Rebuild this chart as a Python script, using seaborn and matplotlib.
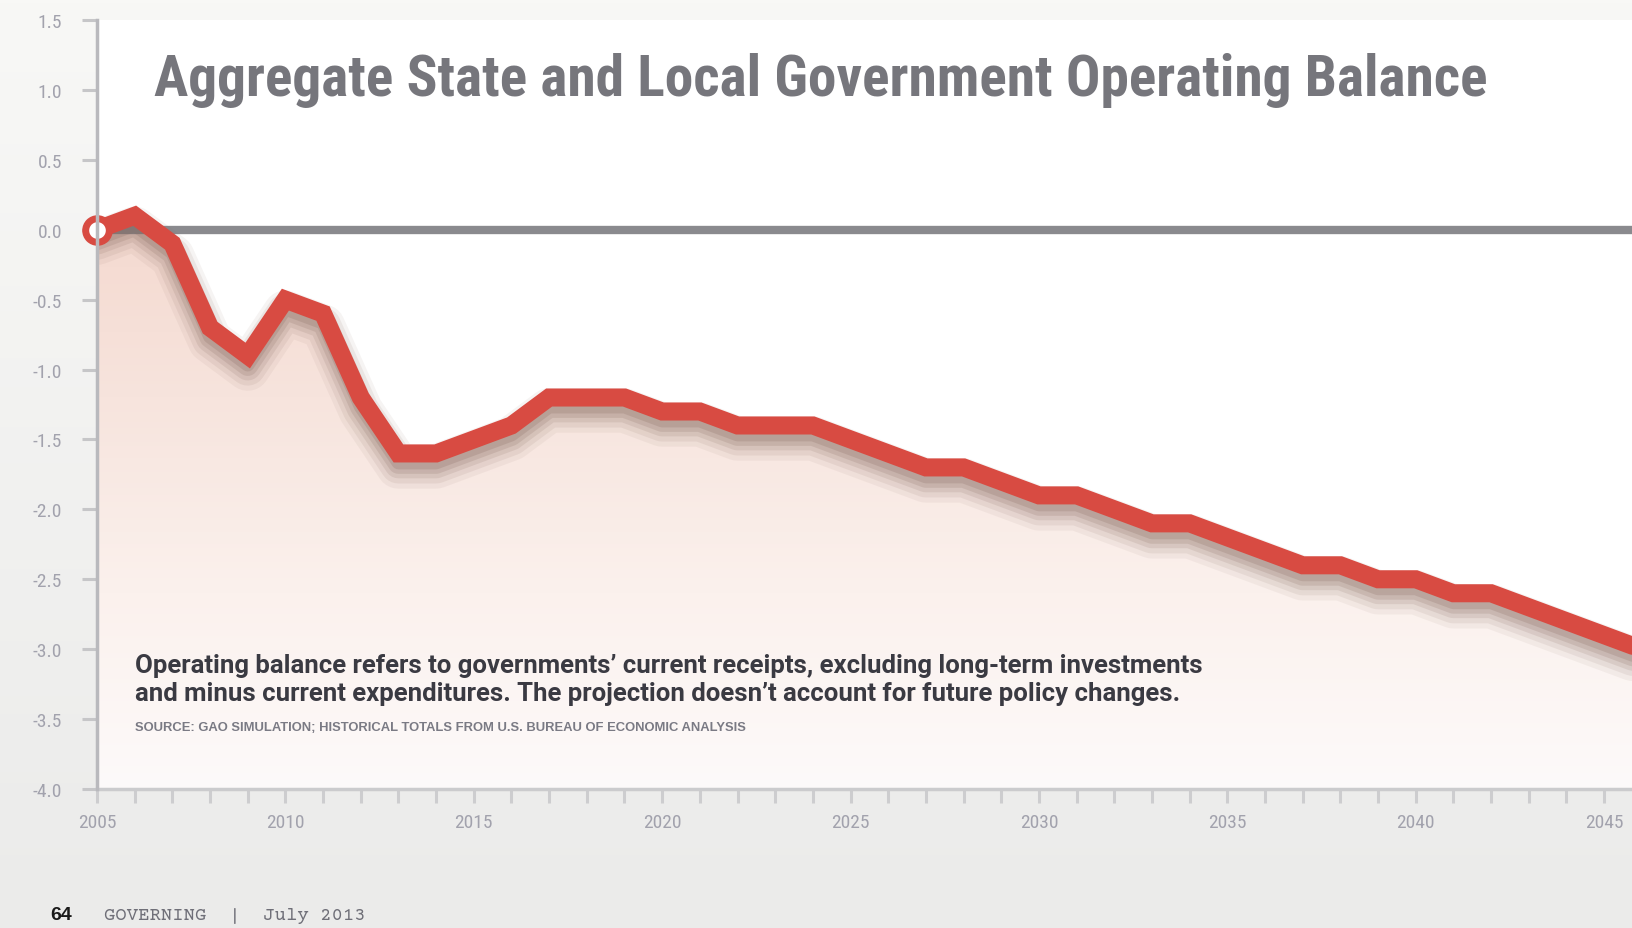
import numpy as np
import pandas as pd
import matplotlib
matplotlib.use("Agg")
import matplotlib.pyplot as plt
import matplotlib.transforms as mtransforms
from matplotlib import font_manager
import seaborn as sns

# ---------------- data ----------------
years = list(range(2005, 2047))
balance = [0.0, 0.1, -0.1, -0.7, -0.9, -0.5, -0.6, -1.2, -1.6, -1.6,
           -1.5, -1.4, -1.2, -1.2, -1.2, -1.3, -1.3, -1.4, -1.4, -1.4,
           -1.5, -1.6, -1.7, -1.7, -1.8, -1.9, -1.9, -2.0, -2.1, -2.1,
           -2.2, -2.3, -2.4, -2.4, -2.5, -2.5, -2.6, -2.6, -2.7, -2.8,
           -2.9, -3.0]
y_ticks = [1.5, 1.0, 0.5, 0.0, -0.5, -1.0, -1.5, -2.0, -2.5, -3.0, -3.5, -4.0]
x_label_years = [2005, 2010, 2015, 2020, 2025, 2030, 2035, 2040, 2045]

title = "Aggregate State and Local Government Operating Balance"
note = ("Operating balance refers to governments\u2019 current receipts, excluding long-term investments\n"
        "and minus current expenditures. The projection doesn\u2019t account for future policy changes.")
source = "SOURCE: GAO SIMULATION; HISTORICAL TOTALS FROM U.S. BUREAU OF ECONOMIC ANALYSIS"
footer_num = "64"
footer_txt = "GOVERNING  |  July 2013"

df = pd.DataFrame({"year": years, "balance": balance})

# ---------------- style ----------------
sns.set_theme(style="white")
bold_names = {f.name for f in font_manager.fontManager.ttflist
              if f.style == "normal" and isinstance(f.weight, int) and f.weight >= 700}
names = {f.name for f in font_manager.fontManager.ttflist}


def pick(cands, need_bold=False):
    pool = bold_names if need_bold else names
    for c in cands:
        if c in pool:
            return c
    return "DejaVu Sans"


cond = pick(["Roboto Condensed", "Archivo Narrow", "PT Sans Narrow", "Fira Sans Condensed",
             "IBM Plex Sans Condensed", "Open Sans Condensed"], need_bold=True)
frank = pick(["Libre Franklin", "Franklin Gothic", "Archivo", "Roboto", "Liberation Sans"],
             need_bold=True)
serif = pick(["Courier Prime", "Old Standard TT", "Liberation Serif"])
plt.rcParams["font.family"] = ["Liberation Sans", "DejaVu Sans"]
plt.rcParams["axes.unicode_minus"] = False

W, H = 1632, 929
fig = plt.figure(figsize=(W / 100, H / 100), dpi=100)

# page background gradient
bg = fig.add_axes([0, 0, 1, 1], zorder=-10)
grad = np.linspace(0, 1, 256).reshape(-1, 1)
bg_cmap = matplotlib.colors.LinearSegmentedColormap.from_list("bg", ["#f8f8f6", "#ebebea"])
bg.imshow(grad, aspect="auto", cmap=bg_cmap, extent=[0, 1, 0, 1])
bg.set_axis_off()

left = 97 / W
bottom = 1 - 790 / H
top = 1 - 21 / H
ax = fig.add_axes([left, bottom, 1 - left, top - bottom])
ax.set_facecolor("white")

x0, x1 = 2005, 2045.74
y0, y1 = -4.0, 1.5
ax.set_xlim(x0, x1)
ax.set_ylim(y0, y1)

# gradient fill under the line
poly = ax.fill_between(df["year"], df["balance"], y0, color="none", lw=0)
fill_cmap = matplotlib.colors.LinearSegmentedColormap.from_list(
    "fill", ["#f4d8ce", "#f7e4dd", "#fbf1ed", "#fdfafa"])
gimg = ax.imshow(np.linspace(0, 1, 256).reshape(-1, 1), aspect="auto", cmap=fill_cmap,
                 extent=[x0, x1, y0, 0.2], origin="upper", zorder=1)
gimg.set_clip_path(poly.get_paths()[0], transform=ax.transData)

# zero line
ax.axhline(0, color="#8a8a8e", lw=6, zorder=2)

# soft shadow under the line
for dy, lw, a in [(13, 32, 0.07), (12, 26, 0.10), (11, 20, 0.14), (10, 15, 0.18),
                  (9, 10, 0.22)]:
    tr = ax.transData + mtransforms.ScaledTranslation(0, -dy / 100, fig.dpi_scale_trans)
    ax.plot(df["year"], df["balance"], color="#85685e", lw=lw, alpha=a,
            solid_joinstyle="round", solid_capstyle="round", transform=tr, zorder=3)

# main line via seaborn
sns.lineplot(data=df, x="year", y="balance", ax=ax, color="#d84b42", lw=13,
             zorder=4, legend=False)
ax.get_lines()[-1].set_solid_joinstyle("miter")

# open start marker
ax.plot(df["year"].iloc[:1], df["balance"].iloc[:1], marker="o", ms=17, mfc="white",
        mec="#d84b42", mew=5, ls="none", zorder=5, clip_on=False)

# axes styling
for s in ["top", "right"]:
    ax.spines[s].set_visible(False)
ax.spines["left"].set_color("#b9b9bd")
ax.spines["left"].set_linewidth(2.5)
ax.spines["bottom"].set_color("#cbcbcd")
ax.spines["bottom"].set_linewidth(2.5)
ax.spines["left"].set_zorder(6)

ax.set_yticks(y_ticks)
ax.set_yticklabels([f"{v:.1f}" for v in y_ticks])
ax.set_xticks(years[:-1])
ax.set_xticklabels([str(y) if y in x_label_years else "" for y in years[:-1]])
ax.tick_params(axis="y", length=11, width=2.2, color="#c6c6c8", pad=14,
               labelsize=14, labelcolor="#a2a2ad", left=True)
ax.tick_params(axis="x", length=10, width=2.2, color="#cdcdcf", pad=7,
               labelsize=14, labelcolor="#a2a2ad", bottom=True)
for t in ax.get_xticklabels() + ax.get_yticklabels():
    t.set_fontfamily([cond, "DejaVu Sans"])
ax.set_xlabel("")
ax.set_ylabel("")
ax.grid(False)

# texts
renderer = fig.canvas.get_renderer()


def fit(t, width_px):
    w = t.get_window_extent(renderer).width
    t.set_fontsize(t.get_fontsize() * width_px / w)


t1 = fig.text(154 / W, 1 - 80 / H, title, fontsize=41, fontweight="bold", color="#76767c",
              family=[cond, "DejaVu Sans"], va="center", ha="left")
fit(t1, 1336)
t2 = fig.text(135 / W, 1 - 680 / H, note, fontsize=15, fontweight="bold", color="#3a3a42",
              family=[frank, "Liberation Sans", "DejaVu Sans"], va="center", ha="left",
              linespacing=1.2)
fit(t2, 1072)
t3 = fig.text(135 / W, 1 - 728 / H, source, fontsize=7.5, fontweight="bold", color="#7a7a84",
              family=["Liberation Sans", "DejaVu Sans"], va="center", ha="left")
fit(t3, 609)
fig.text(50 / W, 1 - 916 / H, footer_num, fontsize=14, fontweight="bold", color="#1a1a1a",
         va="center", ha="left")
t5 = fig.text(104 / W, 1 - 916 / H, footer_txt, fontsize=14, color="#6f6f78",
              family=[serif, "DejaVu Serif"], va="center", ha="left")
fit(t5, 262)

fig.savefig("out.png", dpi=100, facecolor=fig.get_facecolor())
